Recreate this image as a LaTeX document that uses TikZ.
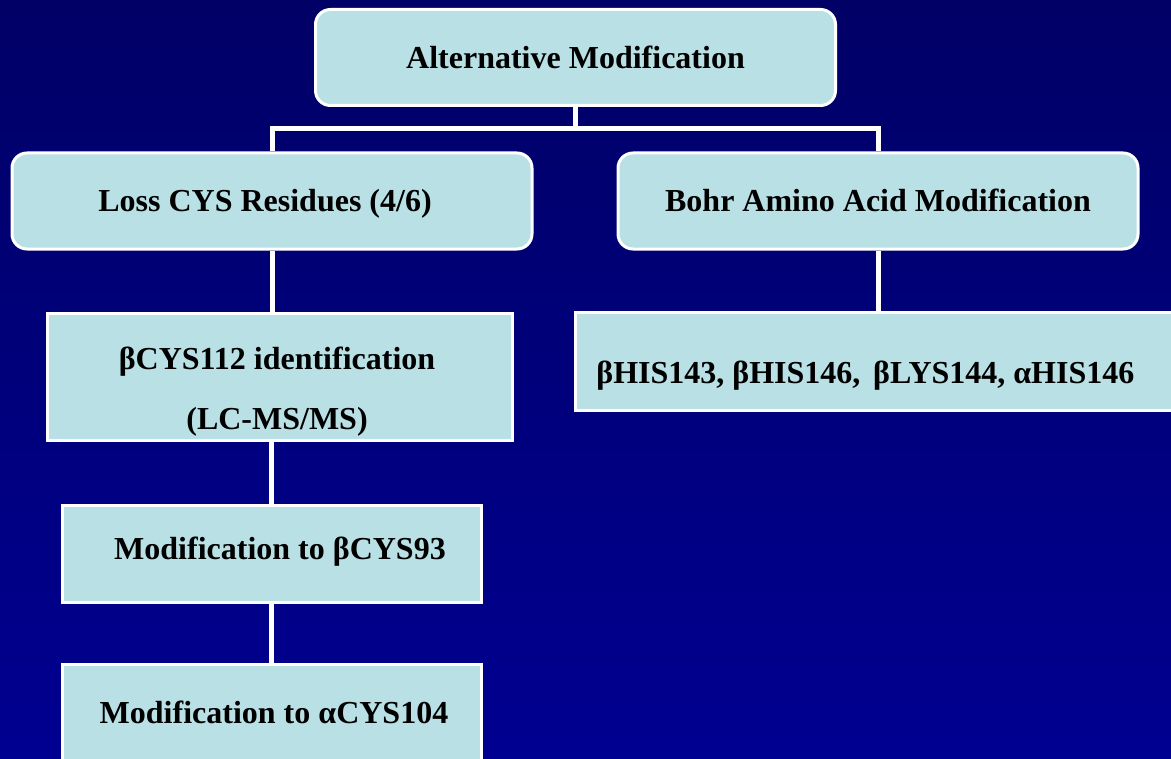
\documentclass[tikz,border=0pt]{standalone}
\usepackage{fontspec}
\setmainfont{Liberation Serif}
\usetikzlibrary{positioning}

\definecolor{boxfill}{RGB}{185,224,228}
\definecolor{bgtop}{RGB}{0,0,102}
\definecolor{bgbottom}{RGB}{0,0,145}

\begin{document}
\begin{tikzpicture}[
    x=0.5pt, y=-0.5pt,
    box font/.style={
        font=\fontsize{16}{30}\selectfont\bfseries
    },
    round box/.style={
        box font,
        draw=white,
        line width=1.5pt,
        fill=boxfill,
        rounded corners=7.5pt,
        text height=11pt,
        text depth=0pt,
        minimum width=260pt,
        minimum height=48pt
    },
    flat box/.style={
        draw=white,
        line width=1.5pt,
        fill=boxfill,
        inner sep=0pt
    },
    link/.style={
        draw=white,
        line width=2.5pt
    }
]

% background
\fill[top color=bgtop, bottom color=bgbottom] (0,0) rectangle (1171,759);
\useasboundingbox (0,0) rectangle (1171,759);
\clip (0,0) rectangle (1171,759);

% rounded boxes
\node[round box] (alt) at (575.5,57.5) {Alternative Modification};
\node[round box] (loss) at (272,201) {Loss CYS Residues (4/6)\kern7pt};
\node[round box] (bohr) at (878,201) {Bohr Amino Acid Modification};

% square boxes
\node[flat box, minimum width=232.5pt, minimum height=63.5pt] (ident) at (279.5,376.5) {};
\node[flat box, minimum width=305pt, minimum height=49pt] (his) at (880,361) {};
\node[flat box, minimum width=209.5pt, minimum height=48.5pt] (cys93) at (271.5,553.5) {};
\node[flat box, minimum width=209.5pt, minimum height=48.5pt] (cys104) at (271.5,712.5) {};

% texts
\node[box font, align=center] (identtext) at (277,392) {βCYS112 identification\\(LC-MS/MS)};
\node[box font, anchor=west, inner sep=0pt] (histext) at (596,376) {βHIS143, βHIS146,\hspace{.15em} βLYS144, αHIS146};
\node[box font] (cys93text) at (280,552) {Modification to βCYS93};
\node[box font] (cys104text) at (274,712) {Modification to αCYS104};

% connectors
\coordinate (split) at (575.5,129);
\draw[link] (alt.south) -- (split);
\draw[link] (loss.north) |- (split) -| (bohr.north);
\draw[link] (loss.south) -- (loss.south |- ident.north);
\draw[link] (cys93.north |- ident.south) -- (cys93.north);
\draw[link] (cys93.south) -- (cys104.north);
\draw[link] (bohr.south) -- (bohr.south |- his.north);

\end{tikzpicture}
\end{document}
